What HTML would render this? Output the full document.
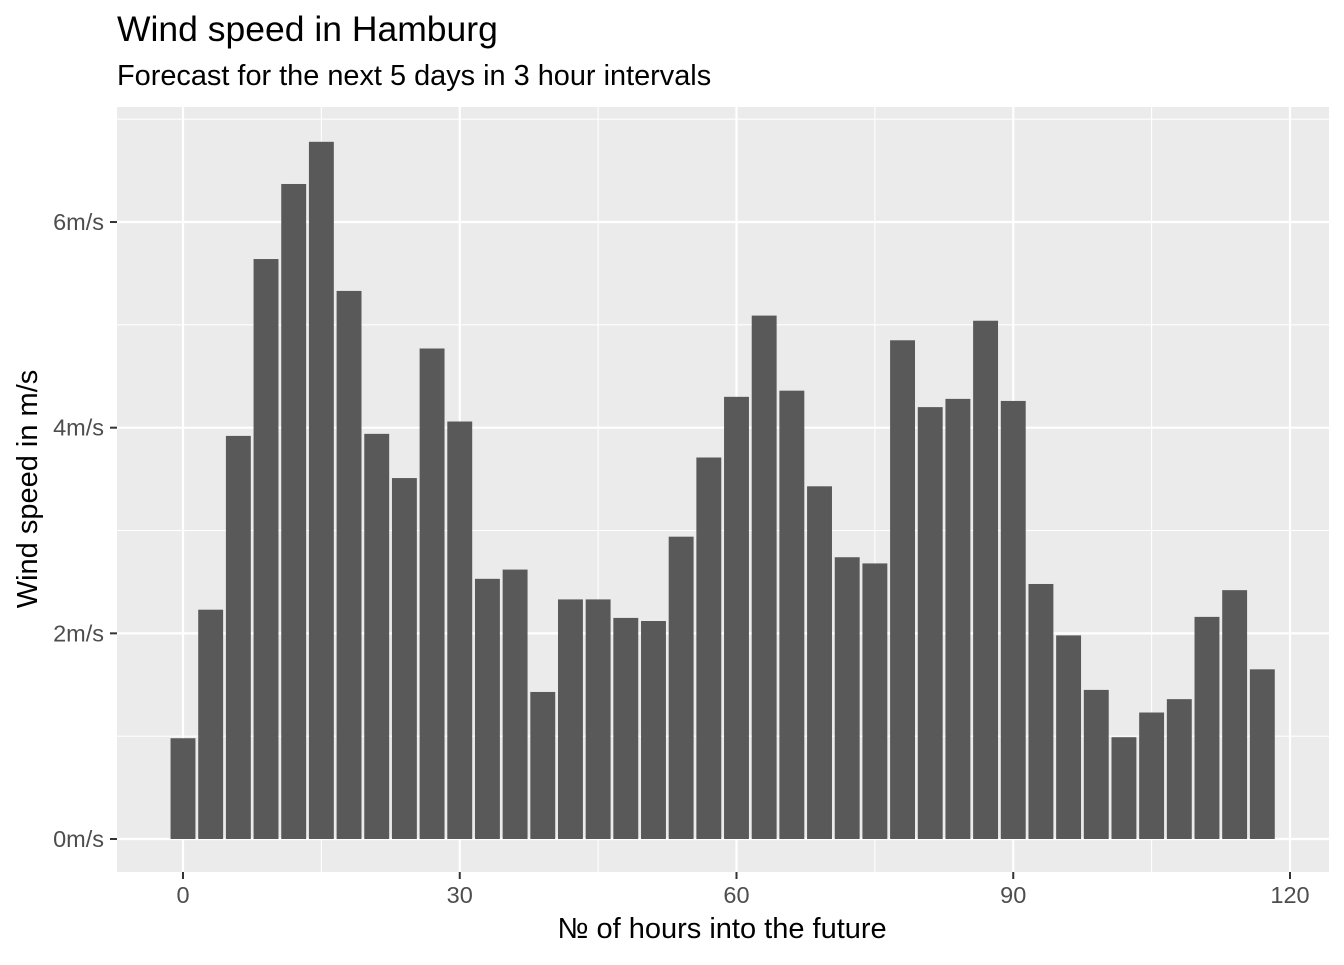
<!DOCTYPE html>
<html><head><meta charset="utf-8"><style>
body{margin:0;background:#fff;}
text{font-family:"Liberation Sans",sans-serif;}
</style></head><body>
<svg width="1344" height="960" id="svg">
<text x="117" y="41" font-size="35.5" fill="#000">Wind speed in Hamburg</text>
<text x="117" y="85" font-size="28.9" fill="#000">Forecast for the next 5 days in 3 hour intervals</text>
<rect x="117" y="107" width="1212" height="765" fill="#ebebeb"/>
<g id="grid"></g><g id="bars"></g><g id="axes"></g>
<text x="722" y="938" font-size="29" text-anchor="middle" fill="#000">№ of hours into the future</text>
<text transform="translate(37,489) rotate(-90)" font-size="29" text-anchor="middle" fill="#000">Wind speed in m/s</text>
</svg>
<script>
const hours=[0,3,6,9,12,15,18,21,24,27,30,33,36,39,42,45,48,51,54,57,60,63,66,69,72,75,78,81,84,87,90,93,96,99,102,105,108,111,114,117];
const speeds=[0.98,2.23,3.92,5.64,6.37,6.78,5.33,3.94,3.51,4.77,4.06,2.53,2.62,1.43,2.33,2.33,2.15,2.12,2.94,3.71,4.30,5.09,4.36,3.43,2.74,2.68,4.85,4.20,4.28,5.04,4.26,2.48,1.98,1.45,0.99,1.23,1.36,2.16,2.42,1.65];
const xTicks=[0,30,60,90,120];
const xMinor=[15,45,75,105];
const yTicks=[0,2,4,6];
const yTickLabels=["0m/s","2m/s","4m/s","6m/s"];
const yMinor=[1,3,5,7];
const NS="http://www.w3.org/2000/svg";
const X=h=>183+h*(1107/120);
const Y=v=>839-v*102.83;
const L=117,R=1329,T=107,B=872;
function mk(tag,a,p){const e=document.createElementNS(NS,tag);for(const k in a)e.setAttribute(k,a[k]);p.appendChild(e);return e;}
const g=document.getElementById('grid'),b=document.getElementById('bars'),ax=document.getElementById('axes');
xMinor.forEach(t=>{const e=mk('line',{x1:X(t),x2:X(t),y1:T,y2:B,stroke:'#fff','stroke-width':1.1},g);});
yMinor.forEach(t=>{const e=mk('line',{x1:L,x2:R,y1:Y(t),y2:Y(t),stroke:'#fff','stroke-width':1.1},g);});
xTicks.forEach(t=>{const e=mk('line',{x1:X(t),x2:X(t),y1:T,y2:B,stroke:'#fff','stroke-width':2.2},g);
const k=mk('line',{x1:X(t),x2:X(t),y1:B,y2:B+7,stroke:'#333','stroke-width':2},ax);
const s=mk('text',{x:X(t),y:B+31,'font-size':23.5,fill:'#4d4d4d','text-anchor':'middle'},ax);s.textContent=t;});
yTicks.forEach((t,i)=>{const e=mk('line',{x1:L,x2:R,y1:Y(t),y2:Y(t),stroke:'#fff','stroke-width':2.2},g);
const k=mk('line',{x1:L-7,x2:L,y1:Y(t),y2:Y(t),stroke:'#333','stroke-width':2},ax);
const s=mk('text',{x:L-13,y:Y(t)+8,'font-size':23.5,fill:'#4d4d4d','text-anchor':'end'},ax);s.textContent=yTickLabels[i];});
const bw=0.9*3*(1107/120);
hours.forEach((h,i)=>{const e=mk('rect',{x:X(h)-bw/2,y:Y(speeds[i]),width:bw,height:Y(0)-Y(speeds[i]),fill:'#595959'},b);});
</script>
</body></html>
